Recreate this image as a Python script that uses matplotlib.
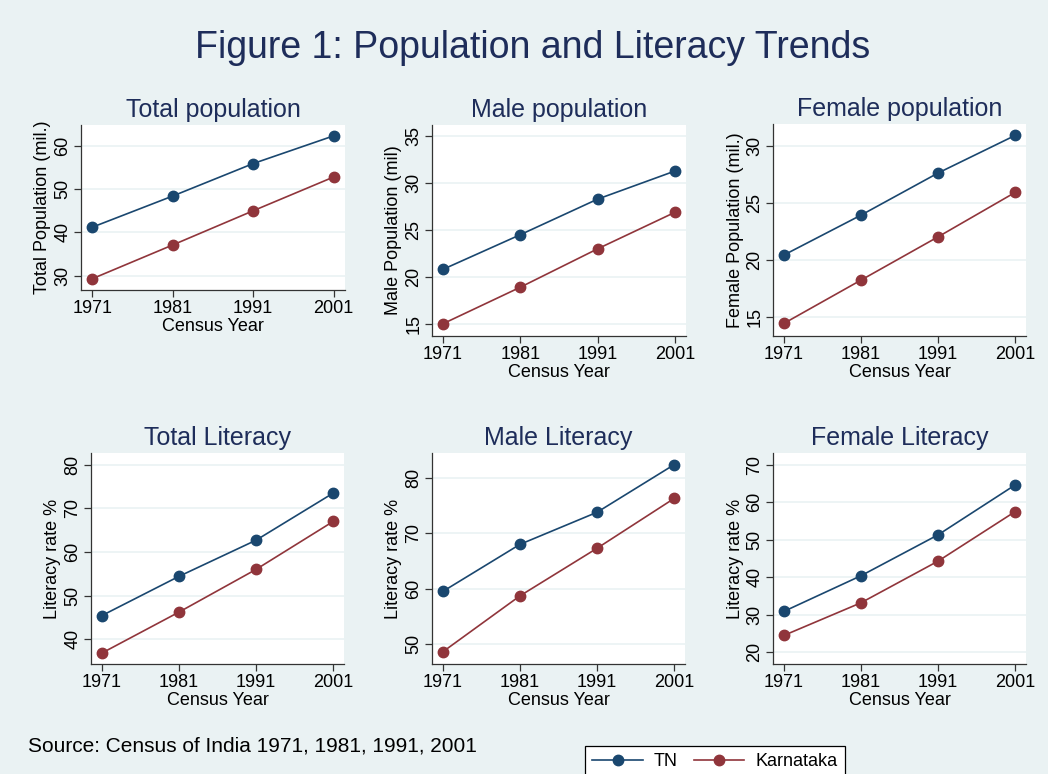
import matplotlib
matplotlib.use("Agg")
import matplotlib.pyplot as plt

plt.rcParams['font.family'] = ['Liberation Sans', 'DejaVu Sans']

years = [1971, 1981, 1991, 2001]

tn_total_pop = [41.2, 48.4, 55.9, 62.3]
ka_total_pop = [29.3, 37.1, 45.0, 52.8]
tn_male_pop = [20.8, 24.5, 28.3, 31.3]
ka_male_pop = [15.0, 18.9, 23.0, 26.9]
tn_female_pop = [20.4, 23.9, 27.6, 30.9]
ka_female_pop = [14.4, 18.2, 22.0, 25.9]
tn_total_lit = [45.4, 54.4, 62.7, 73.5]
ka_total_lit = [36.8, 46.2, 56.0, 67.0]
tn_male_lit = [59.5, 68.0, 73.8, 82.4]
ka_male_lit = [48.6, 58.7, 67.3, 76.3]
tn_female_lit = [30.9, 40.4, 51.3, 64.6]
ka_female_lit = [24.5, 33.2, 44.3, 57.5]

titles = ["Total population", "Male population", "Female population",
          "Total Literacy", "Male Literacy", "Female Literacy"]
ylabels = ["Total Population (mil.)", "Male Population (mil)", "Female Population (mil.)",
           "Literacy rate %", "Literacy rate %", "Literacy rate %"]
tn_series = [tn_total_pop, tn_male_pop, tn_female_pop, tn_total_lit, tn_male_lit, tn_female_lit]
ka_series = [ka_total_pop, ka_male_pop, ka_female_pop, ka_total_lit, ka_male_lit, ka_female_lit]
yticks = [[30, 40, 50, 60], [15, 20, 25, 30, 35], [15, 20, 25, 30],
          [40, 50, 60, 70, 80], [50, 60, 70, 80], [20, 30, 40, 50, 60, 70]]
ylims = [(26.7, 64.8), (13.7, 36.2), (13.3, 31.9), (34.3, 82.7), (46.4, 84.5), (16.9, 73.1)]

# plot boxes in pixels: left, top, right, bottom
boxes = [(81, 125, 345, 290), (432, 125, 686, 336), (773, 124, 1026, 336),
         (91, 453, 344, 664), (432, 453, 685, 664), (773, 453, 1026, 664)]

W, H = 1048, 774
bg = '#EAF2F3'
navy = '#1A476F'
maroon = '#90353B'
title_col = '#1E2D5A'

fig = plt.figure(figsize=(W / 100, H / 100), dpi=100, facecolor=bg)

fig.text(533 / W, 1 - 48 / H, "Figure 1: Population and Literacy Trends", ha='center', va='center',
         fontsize=27, color=title_col)

for i in range(6):
    l, t, r, b = boxes[i]
    ax = fig.add_axes([l / W, 1 - b / H, (r - l) / W, (b - t) / H])
    ax.set_facecolor('white')
    ax.plot(years, tn_series[i], color=navy, lw=1.2, marker='o', ms=7.5, label='TN')
    ax.plot(years, ka_series[i], color=maroon, lw=1.2, marker='o', ms=7.5, label='Karnataka')
    ax.set_xlim(1969.6, 2002.4)
    ax.set_ylim(*ylims[i])
    ax.set_xticks(years)
    ax.set_yticks(yticks[i])
    ax.grid(axis='y', color=bg, lw=1.2)
    ax.set_axisbelow(True)
    for s in ['top', 'right']:
        ax.spines[s].set_visible(False)
    for s in ['left', 'bottom']:
        ax.spines[s].set_color('#333333')
        ax.spines[s].set_linewidth(0.9)
    ax.tick_params(labelsize=13, length=5, width=0.9, color='#333333', pad=2)
    for lab in ax.get_yticklabels():
        lab.set_rotation(90)
        lab.set_va('center')
    ax.set_title(titles[i], fontsize=18, color=title_col, pad=6)
    ax.set_xlabel("Census Year", fontsize=13, labelpad=1)
    ax.set_ylabel(ylabels[i], fontsize=13, labelpad=2)
    if i == 0:
        handles, labels = ax.get_legend_handles_labels()

fig.text(28 / W, 1 - 746 / H, "Source: Census of India 1971, 1981, 1991, 2001", ha='left', va='center',
         fontsize=15)

leg = fig.legend(handles, labels, loc='upper left', bbox_to_anchor=(585 / W, 1 - 746 / H), ncol=2,
                 fontsize=13, frameon=True, fancybox=False, edgecolor='black', framealpha=1,
                 handlelength=2.8, columnspacing=0.9, handletextpad=0.6, borderaxespad=0,
                 borderpad=0.4)
leg.get_frame().set_linewidth(0.9)

fig.savefig("out.png", dpi=100, facecolor=bg)
